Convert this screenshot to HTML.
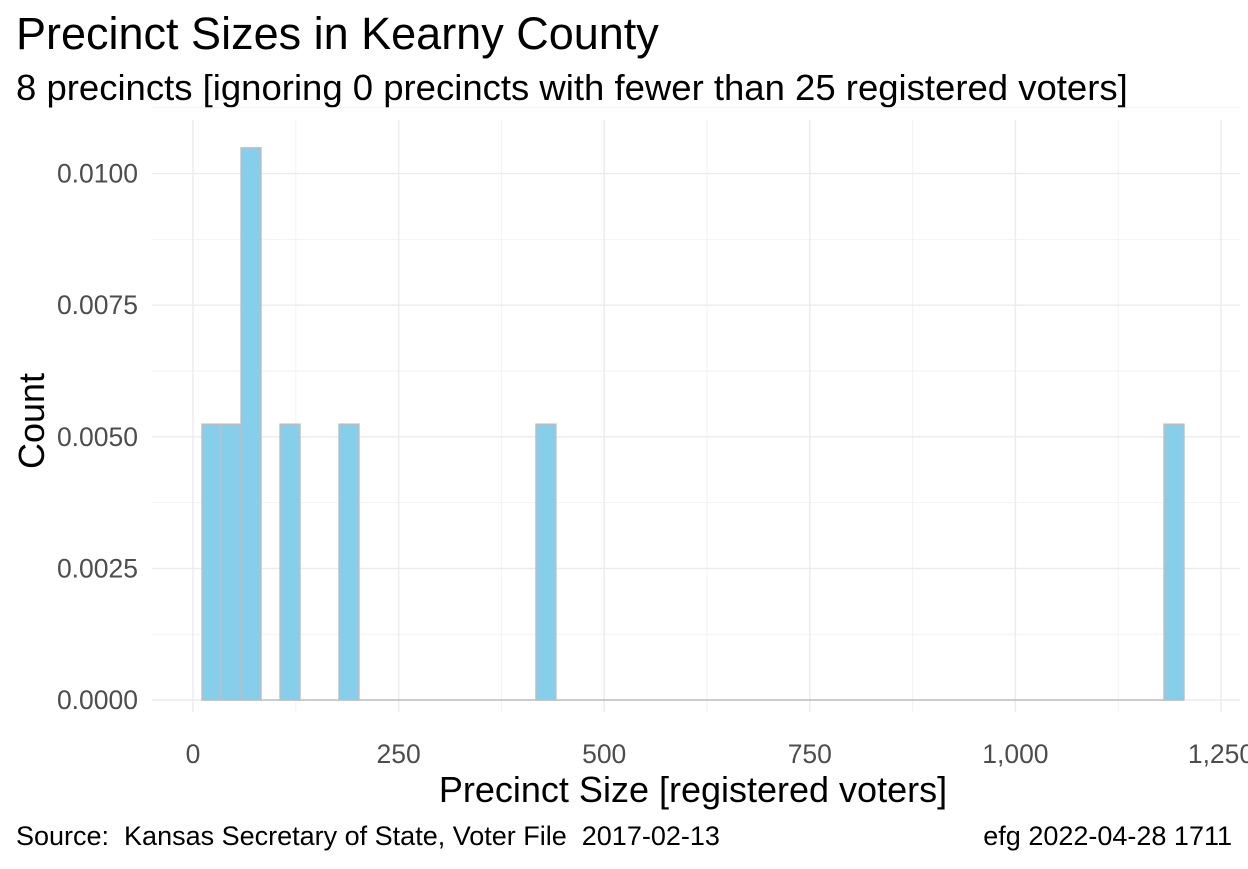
<!DOCTYPE html>
<html><head><meta charset="utf-8"><style>
body{margin:0;background:#fff;font-family:"Liberation Sans",Arial,sans-serif;}
svg text{font-family:"Liberation Sans",Arial,sans-serif;white-space:pre;}
</style></head><body>
<svg id="chart" width="1248" height="864" xmlns="http://www.w3.org/2000/svg">
<rect width="1248" height="864" fill="#fff"/>
<text x="16" y="49" font-size="45" fill="#000">Precinct Sizes in Kearny County</text>
<text x="16" y="100" font-size="36.5" fill="#000">8 precincts [ignoring 0 precincts with fewer than 25 registered voters]</text>
<g id="grid"></g>
<g id="bars"></g>
<g id="axes"></g>
<text transform="translate(44,421) rotate(-90)" text-anchor="middle" font-size="36" fill="#000">Count</text>
<text x="693" y="802" text-anchor="middle" font-size="36" fill="#000">Precinct Size [registered voters]</text>
<text x="16" y="845" font-size="27" fill="#000" xml:space="preserve">Source:  Kansas Secretary of State, Voter File  2017-02-13</text>
<text x="1232" y="845" text-anchor="end" font-size="27" fill="#000">efg 2022-04-28 1711</text>
</svg>
<script>
const binStarts = [10.9, 34.0, 58.4, 105.8, 177.5, 417.0, 1180.7];
const binDensity = [0.00524, 0.00524, 0.01049, 0.00524, 0.00524, 0.00524, 0.00524];
const binWidth = 24.3;
const xTicks = [0, 250, 500, 750, 1000, 1250];
const xTickLabels = ["0", "250", "500", "750", "1,000", "1,250"];
const yTicks = [0, 0.0025, 0.005, 0.0075, 0.01];
const yTickLabels = ["0.0000", "0.0025", "0.0050", "0.0075", "0.0100"];

const NS = "http://www.w3.org/2000/svg";
const L = 152, R = 1240, T = 120, B = 712;
const xs = v => 193 + v * 0.8224;
const ys = v => 700 - v * 52640;
function mk(tag, attrs, parent) {
  const e = document.createElementNS(NS, tag);
  for (const k in attrs) e.setAttribute(k, attrs[k]);
  parent.appendChild(e); return e;
}
const grid = document.getElementById('grid');
const bars = document.getElementById('bars');
const axes = document.getElementById('axes');
for (let i = 0; i < xTicks.length - 1; i++) {
  const m = (xTicks[i] + xTicks[i + 1]) / 2;
  const l = mk('line', {x1: xs(m), x2: xs(m), y1: T, y2: B, stroke: '#f2f2f2', 'stroke-width': 1}, grid);
  
  
}
for (let i = 0; i < yTicks.length; i++) {
  const m = yTicks[i] + 0.00125;
  const l = mk('line', {x1: L, x2: R, y1: ys(m), y2: ys(m), stroke: '#f2f2f2', 'stroke-width': 1}, grid);
  
  
}
xTicks.forEach((t, i) => {
  const l = mk('line', {x1: xs(t), x2: xs(t), y1: T, y2: B, stroke: '#ebebeb', 'stroke-width': 1.4}, grid);
  
  
  const tx = mk('text', {x: xs(t), y: 763, 'text-anchor': 'middle', 'font-size': 26.5, fill: '#4d4d4d'}, axes);
  tx.textContent = xTickLabels[i];
  
  
});
yTicks.forEach((t, i) => {
  const l = mk('line', {x1: L, x2: R, y1: ys(t), y2: ys(t), stroke: '#ebebeb', 'stroke-width': 1.4}, grid);
  
  
  const tx = mk('text', {x: 138, y: ys(t) + 9, 'text-anchor': 'end', 'font-size': 26.5, fill: '#4d4d4d'}, axes);
  tx.textContent = yTickLabels[i];
  
  
});
const base = mk('line', {x1: xs(binStarts[0]), x2: xs(binStarts[binStarts.length - 1] + binWidth), y1: ys(0), y2: ys(0), stroke: '#bebebe', 'stroke-width': 1.4}, bars);


binStarts.forEach((s, i) => {
  const x0 = xs(s), x1 = xs(s + binWidth), y0 = ys(binDensity[i]);
  const r = mk('rect', {x: x0, y: y0, width: x1 - x0, height: ys(0) - y0, fill: '#87ceeb', stroke: '#bebebe', 'stroke-width': 1.4}, bars);
  
  
});
</script>
</body></html>
